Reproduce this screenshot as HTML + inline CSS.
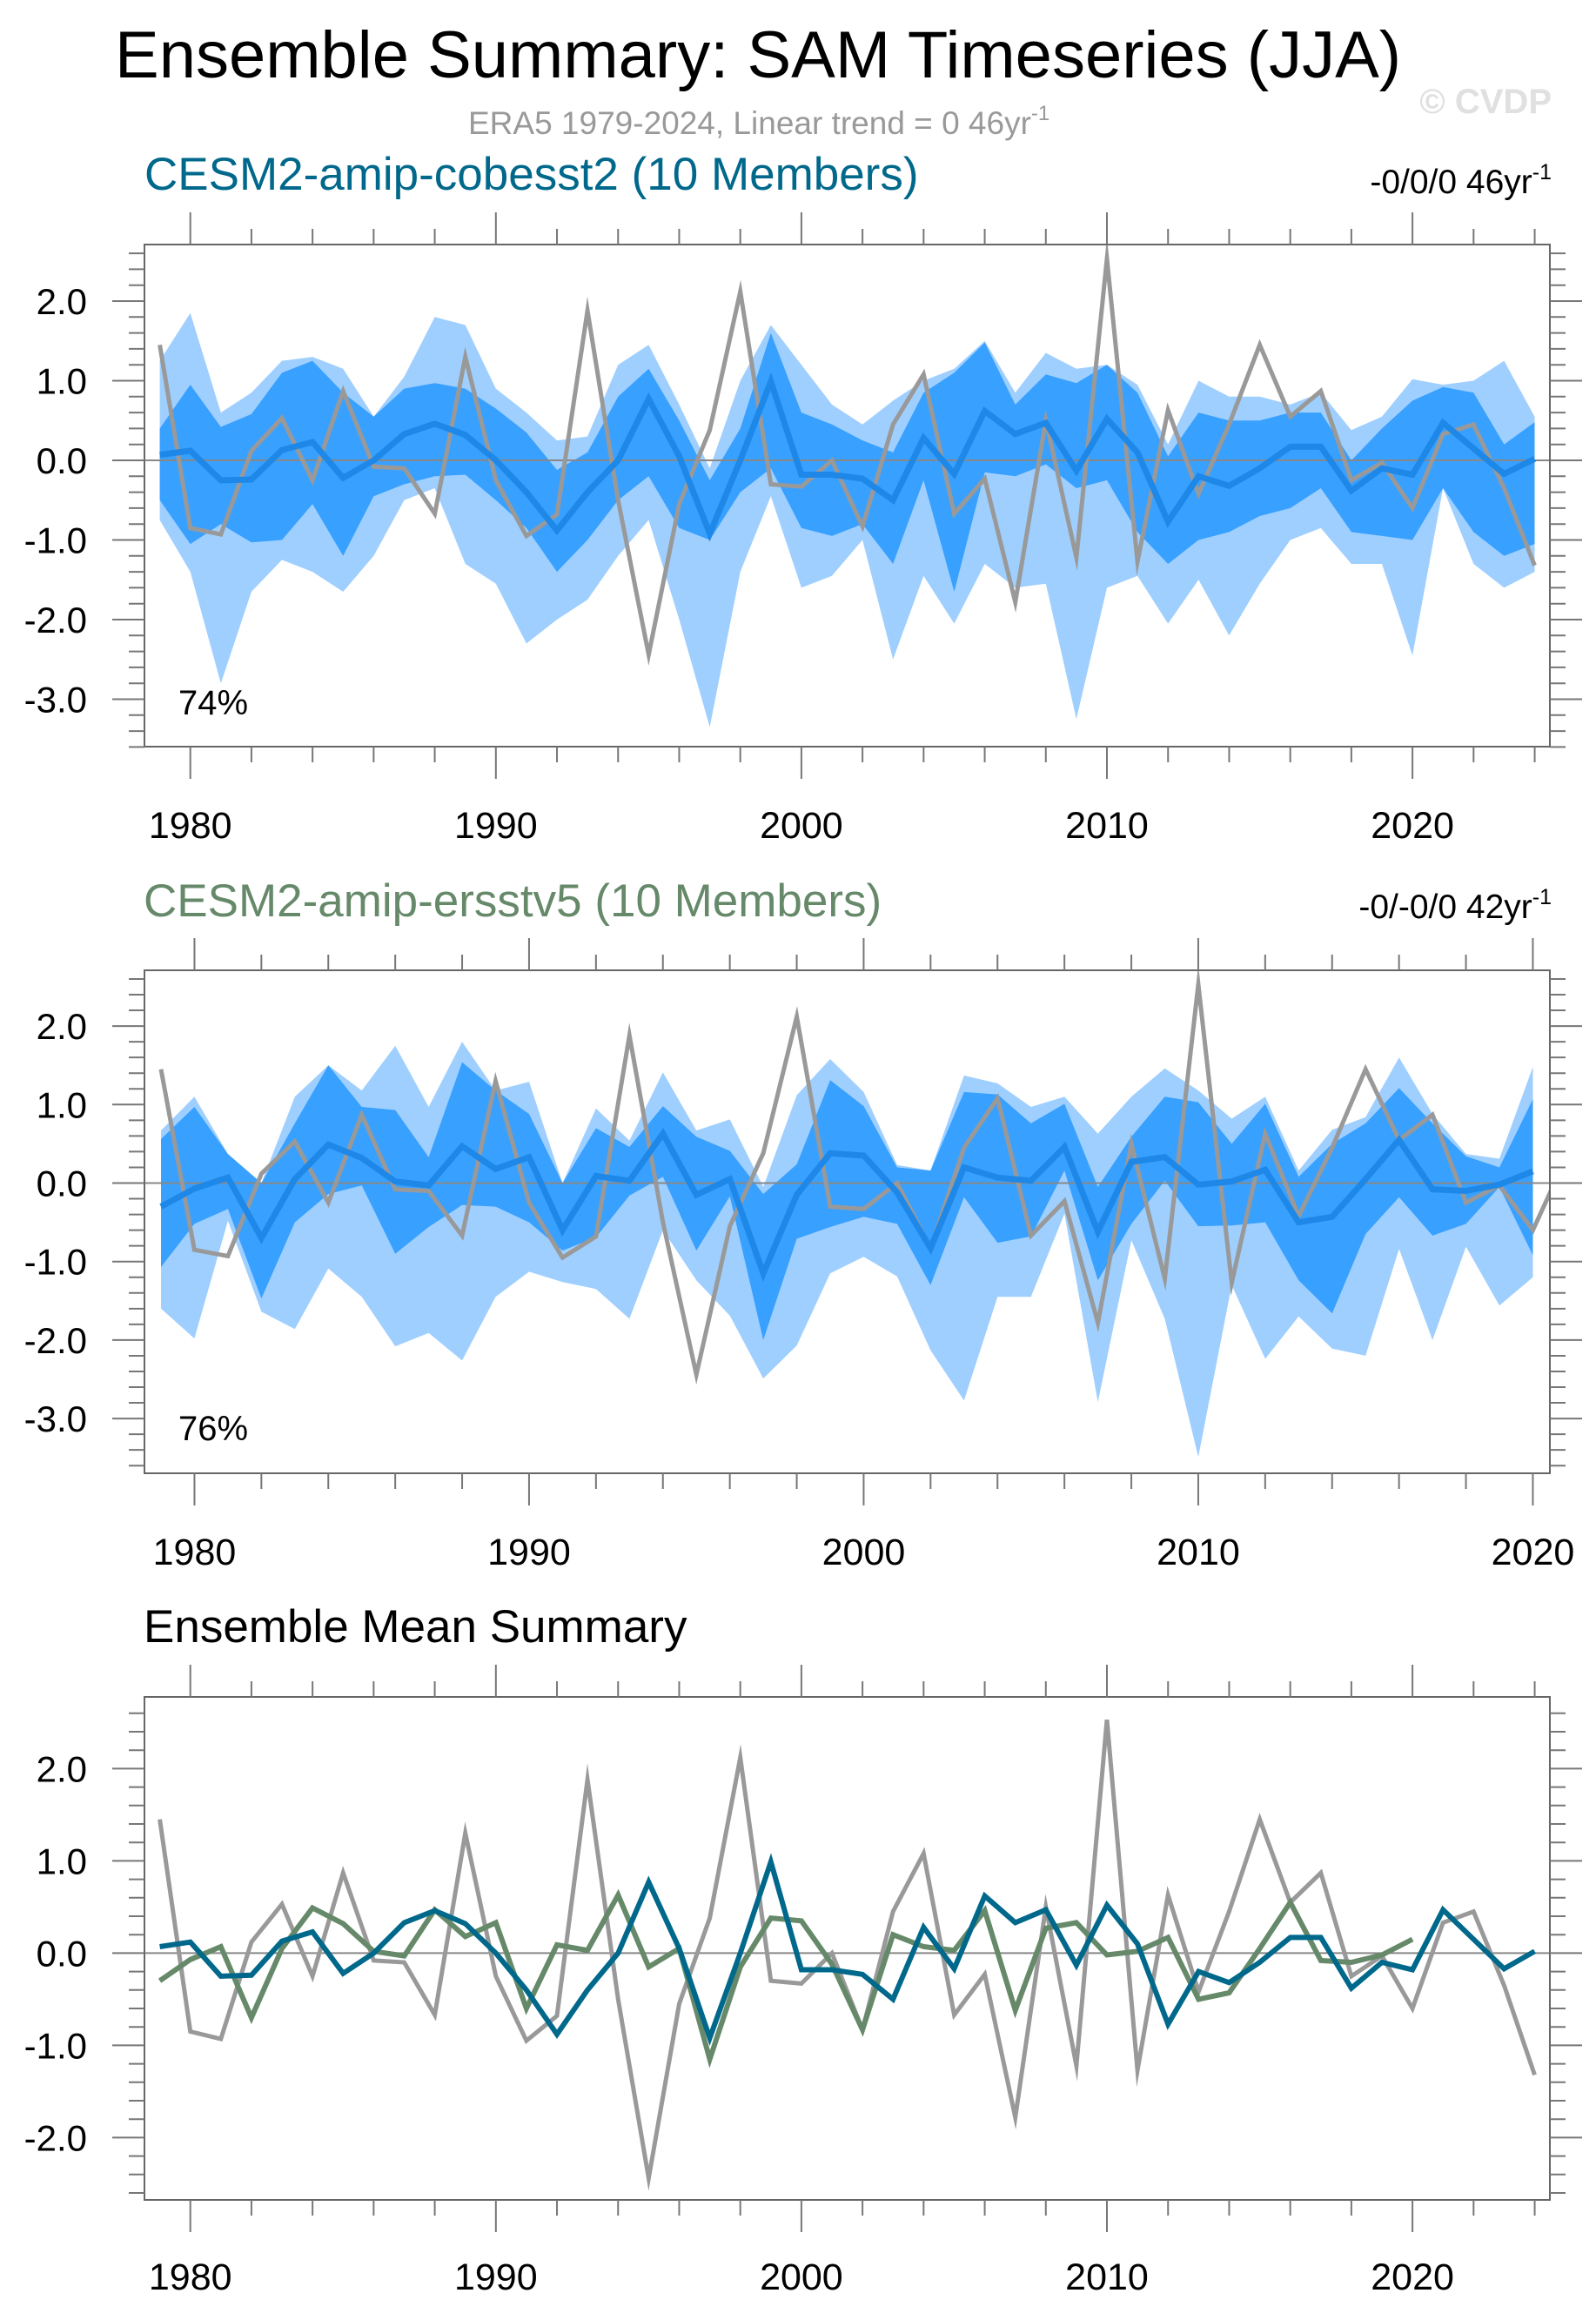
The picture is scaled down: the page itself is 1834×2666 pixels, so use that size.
<!DOCTYPE html>
<html><head><meta charset="utf-8"><style>
html,body{margin:0;padding:0;background:#fff;}
svg{display:block;font-family:"Liberation Sans",Arial,sans-serif;}
</style></head><body>
<svg id="chart" width="1834" height="2666" viewBox="0 0 1834 2666" xmlns="http://www.w3.org/2000/svg">
<text x="132" y="89" font-size="76" fill="#000">Ensemble Summary: SAM Timeseries (JJA)</text>
<text x="538" y="154" font-size="37" fill="#999">ERA5 1979-2024, Linear trend = 0 46yr<tspan dy="-16" font-size="24">-1</tspan></text>
<text x="1783" y="130" font-size="40" font-weight="bold" fill="#e0e0e0" text-anchor="end">© CVDP</text>

<text x="166" y="218" font-size="53" fill="#00688b">CESM2-amip-cobesst2 (10 Members)</text>
<text x="1783" y="222" font-size="39" fill="#000" text-anchor="end">-0/0/0 46yr<tspan dy="-16" font-size="25">-1</tspan></text>
<g id="p1"></g>

<text x="165" y="1053" font-size="53" fill="#66896a">CESM2-amip-ersstv5 (10 Members)</text>
<text x="1783" y="1055" font-size="39" fill="#000" text-anchor="end">-0/-0/0 42yr<tspan dy="-16" font-size="25">-1</tspan></text>
<g id="p2"></g>

<text x="165" y="1887" font-size="53" fill="#000">Ensemble Mean Summary</text>
<g id="p3"></g>
</svg>
<script>
const years1 = [1979,1980,1981,1982,1983,1984,1985,1986,1987,1988,1989,1990,1991,1992,1993,1994,1995,1996,1997,1998,1999,2000,2001,2002,2003,2004,2005,2006,2007,2008,2009,2010,2011,2012,2013,2014,2015,2016,2017,2018,2019,2020,2021,2022,2023,2024];
const era5 = [1.45,-0.85,-0.93,0.12,0.53,-0.25,0.87,-0.08,-0.1,-0.67,1.3,-0.25,-0.95,-0.68,1.88,-0.5,-2.44,-0.55,0.38,2.12,-0.3,-0.33,0.0,-0.83,0.45,1.08,-0.67,-0.23,-1.78,0.5,-1.22,2.53,-1.27,0.63,-0.42,0.45,1.45,0.55,0.87,-0.25,-0.03,-0.6,0.33,0.45,-0.35,-1.32];
const cobMean = [0.07,0.12,-0.25,-0.24,0.13,0.23,-0.22,0.0,0.33,0.46,0.32,0.0,-0.4,-0.88,-0.4,0.0,0.77,0.05,-0.92,0.0,0.99,-0.18,-0.18,-0.23,-0.5,0.28,-0.17,0.62,0.33,0.47,-0.13,0.52,0.1,-0.77,-0.2,-0.32,-0.1,0.17,0.17,-0.38,-0.1,-0.18,0.47,0.15,-0.17,0.02];
const cobLightHi = [1.25,1.85,0.6,0.85,1.25,1.3,1.15,0.55,1.05,1.8,1.7,0.9,0.6,0.25,0.3,1.2,1.45,0.7,-0.1,1.0,1.7,1.2,0.7,0.45,0.75,1.0,1.15,1.5,0.85,1.35,1.15,1.2,0.95,0.2,1.0,0.8,0.8,0.7,0.85,0.38,0.55,1.02,0.95,1.0,1.25,0.55];
const cobDarkHi = [0.4,0.95,0.42,0.58,1.1,1.25,0.85,0.55,0.9,0.97,0.9,0.65,0.35,-0.12,0.1,0.8,1.15,0.5,-0.25,0.4,1.6,0.6,0.45,0.25,0.1,0.85,1.1,1.48,0.7,1.08,0.97,1.2,0.85,0.05,0.6,0.5,0.5,0.6,0.6,0.0,0.4,0.75,0.92,0.85,0.2,0.48];
const cobDarkLo = [-0.5,-1.05,-0.8,-1.03,-1.0,-0.55,-1.2,-0.45,-0.3,-0.2,-0.18,-0.5,-0.85,-1.4,-1.0,-0.5,-0.2,-0.85,-1.0,-0.4,-0.1,-0.85,-0.95,-0.8,-1.3,-0.25,-1.65,-0.15,-0.2,-0.05,-0.35,-0.25,-0.9,-1.3,-1.0,-0.9,-0.7,-0.6,-0.35,-0.9,-0.95,-1.0,-0.35,-0.9,-1.2,-1.05];
const cobLightLo = [-0.75,-1.4,-2.8,-1.65,-1.25,-1.4,-1.65,-1.2,-0.5,-0.35,-1.3,-1.55,-2.3,-2.0,-1.75,-1.2,-0.75,-2.0,-3.35,-1.4,-0.45,-1.6,-1.45,-1.0,-2.5,-1.45,-2.05,-1.3,-1.6,-1.55,-3.25,-1.6,-1.45,-2.05,-1.5,-2.2,-1.55,-1.0,-0.85,-1.3,-1.3,-2.45,-0.35,-1.3,-1.6,-1.4];

const years2 = [1979,1980,1981,1982,1983,1984,1985,1986,1987,1988,1989,1990,1991,1992,1993,1994,1995,1996,1997,1998,1999,2000,2001,2002,2003,2004,2005,2006,2007,2008,2009,2010,2011,2012,2013,2014,2015,2016,2017,2018,2019,2020];
const ersMean = [-0.3,-0.07,0.07,-0.7,0.05,0.49,0.32,0.02,-0.03,0.47,0.18,0.33,-0.6,0.09,0.03,0.63,-0.15,0.05,-1.15,-0.15,0.38,0.35,-0.12,-0.83,0.2,0.07,0.03,0.46,-0.62,0.27,0.33,-0.02,0.02,0.17,-0.5,-0.43,0.05,0.55,-0.08,-0.1,-0.02,0.15];
const ersLightHi = [0.67,1.1,0.37,0.0,1.1,1.5,1.18,1.75,0.97,1.8,1.18,1.29,0.0,0.95,0.54,1.41,0.67,0.81,-0.05,1.12,1.58,1.16,0.23,0.16,1.37,1.27,0.97,1.1,0.63,1.1,1.46,1.18,0.82,1.1,0.16,0.68,0.84,1.6,0.88,0.37,0.31,1.48];
const ersDarkHi = [0.56,0.97,0.37,0.0,0.76,1.5,0.97,0.93,0.33,1.54,1.18,0.88,0.0,0.7,0.46,0.98,0.59,0.41,-0.14,0.24,1.31,0.98,0.2,0.16,1.16,1.13,0.76,1.01,-0.05,0.59,1.1,1.03,0.5,1.01,0.08,0.5,0.76,1.21,0.76,0.34,0.2,1.07];
const ersDarkLo = [-1.07,-0.52,-0.33,-1.47,-0.5,-0.14,-0.03,-0.9,-0.56,-0.28,-0.3,-0.5,-0.86,-0.69,-0.16,0.08,-0.86,-0.17,-2.0,-0.71,-0.56,-0.43,-0.52,-1.3,-0.18,-0.76,-0.68,0.16,-1.24,-0.52,0.03,-0.55,-0.54,-0.5,-1.24,-1.66,-0.65,-0.18,-0.67,-0.52,-0.05,-0.92];
const ersLightLo = [-1.6,-1.98,-0.48,-1.64,-1.86,-1.09,-1.45,-2.08,-1.91,-2.26,-1.45,-1.13,-1.26,-1.35,-1.73,-0.6,-1.24,-1.69,-2.49,-2.07,-1.15,-0.94,-1.19,-2.13,-2.77,-1.45,-1.45,-0.39,-2.79,-0.73,-1.73,-3.49,-1.3,-2.24,-1.7,-2.11,-2.2,-0.84,-2.0,-0.81,-1.56,-1.2];

const yTickLabels12 = ["2.0","1.0","0.0","-1.0","-2.0","-3.0"];
const yTickValues12 = [2,1,0,-1,-2,-3];
const yTickLabels3 = ["2.0","1.0","0.0","-1.0","-2.0"];
const yTickValues3 = [2,1,0,-1,-2];
const xTickLabels1 = ["1980","1990","2000","2010","2020"];
const xTickValues1 = [1980,1990,2000,2010,2020];

const NS='http://www.w3.org/2000/svg';
function mk(tag, attrs, parent){const e=document.createElementNS(NS,tag);for(const k in attrs)e.setAttribute(k,attrs[k]);parent.appendChild(e);return e;}

function panel(g, cfg){
  const L=166,R=1781,T=cfg.top,B=cfg.bottom;
  const xs = y => cfg.x0 + (y-1979)*cfg.dx;
  const ys = v => cfg.zero - v*cfg.unit;
  const id=cfg.id;
  const defs=mk('defs',{},g);
  const cp=mk('clipPath',{id:id+'clip'},defs);
  mk('rect',{x:L,y:T,width:R-L,height:B-T},cp);
  const plot=mk('g',{'clip-path':'url(#'+id+'clip)'},g);
  function band(yrs,hi,lo,color,name){
    let d='';
    yrs.forEach((y,i)=>{d+=(i?'L':'M')+xs(y).toFixed(1)+','+ys(hi[i]).toFixed(1);});
    for(let i=yrs.length-1;i>=0;i--) d+='L'+xs(yrs[i]).toFixed(1)+','+ys(lo[i]).toFixed(1);
    const p=mk('path',{d:d+'Z',fill:color},plot);
    
    
  }
  function line(yrs,vals,color,w,name){
    let d='';
    yrs.forEach((y,i)=>{d+=(i?'L':'M')+xs(y).toFixed(1)+','+ys(vals[i]).toFixed(1);});
    const p=mk('path',{d:d,fill:'none',stroke:color,'stroke-width':w,'stroke-linejoin':'miter','stroke-miterlimit':10},plot);
    
    
  }
  if(cfg.bands){
    band(cfg.years,cfg.lh,cfg.ll,'#9fcfff',id+'-outer-band');
    band(cfg.years,cfg.dh,cfg.dl,'#38a0ff',id+'-inner-band');
  }
  const z=mk('line',{x1:L,x2:R,y1:ys(0),y2:ys(0),stroke:'#888','stroke-width':2},plot);
  
  
  cfg.lines.forEach(l=>line(l.years,l.vals,l.color,l.w,l.name));
  // frame
  const fr=mk('rect',{x:L,y:T,width:R-L,height:B-T,fill:'none',stroke:'#666','stroke-width':2},g);
  
  
  // x ticks
  const tk=mk('g',{stroke:'#777','stroke-width':2},g);
  
  
  for(let y=cfg.xmin;y<=cfg.xmax;y+=2){
    const x=xs(y), maj=(y%10===0);
    mk('line',{x1:x,x2:x,y1:T,y2:T-(maj?37:18)},tk);
    mk('line',{x1:x,x2:x,y1:B,y2:B+(maj?37:18)},tk);
  }
  for(let k=Math.ceil(cfg.vmin*5);k<=Math.floor(cfg.vmax*5);k++){
    const v=k/5, yy=ys(v), maj=(k%5===0);
    mk('line',{x1:L,x2:L-(maj?37:18),y1:yy,y2:yy},tk);
    mk('line',{x1:R,x2:R+(maj?37:18),y1:yy,y2:yy},tk);
  }
  cfg.yVals.forEach((v,i)=>{
    const t=mk('text',{x:100,y:ys(v)+15,'font-size':42,'text-anchor':'end',fill:'#000'},g);
    t.textContent=cfg.yLabs[i];
    
    
  });
  xTickValues1.forEach((v,i)=>{
    const t=mk('text',{x:xs(v),y:cfg.xlabY,'font-size':43,'text-anchor':'middle',fill:'#000'},g);
    t.textContent=xTickLabels1[i];
    
    
  });
  if(cfg.pct){
    const t=mk('text',{x:205,y:cfg.pctY,'font-size':40,fill:'#000'},g);
    t.textContent=cfg.pct;
    
    
  }
}

panel(document.getElementById('p1'),{id:'panel1',top:281,bottom:858,zero:529,unit:91.5,x0:183.6,dx:35.11,xmin:1980,xmax:2024,vmin:-3.6,vmax:2.7,
  bands:true,years:years1,lh:cobLightHi,dh:cobDarkHi,dl:cobDarkLo,ll:cobLightLo,
  lines:[{years:years1,vals:era5,color:'#999',w:5,name:'panel1-era5-line'},{years:years1,vals:cobMean,color:'#1e88e8',w:7,name:'panel1-ensemble-mean-line'}],
  yVals:yTickValues12,yLabs:yTickLabels12,xlabY:963,pct:'74%',pctY:821});

panel(document.getElementById('p2'),{id:'panel2',top:1115,bottom:1693,zero:1359.5,unit:90.2,x0:185,dx:38.45,xmin:1980,xmax:2020,vmin:-3.7,vmax:2.7,
  bands:true,years:years2,lh:ersLightHi,dh:ersDarkHi,dl:ersDarkLo,ll:ersLightLo,
  lines:[{years:years1,vals:era5,color:'#999',w:5,name:'panel2-era5-line'},{years:years2,vals:ersMean,color:'#1e88e8',w:7,name:'panel2-ensemble-mean-line'}],
  yVals:yTickValues12,yLabs:yTickLabels12,xlabY:1798,pct:'76%',pctY:1655});

panel(document.getElementById('p3'),{id:'panel3',top:1950,bottom:2528,zero:2244.4,unit:106,x0:183.6,dx:35.11,xmin:1980,xmax:2024,vmin:-2.67,vmax:2.78,
  bands:false,
  lines:[{years:years1,vals:era5,color:'#999',w:5,name:'panel3-era5-line'},{years:years2,vals:ersMean,color:'#66896a',w:6,name:'panel3-ersstv5-mean-line'},{years:years1,vals:cobMean,color:'#00688b',w:6,name:'panel3-cobesst2-mean-line'}],
  yVals:yTickValues3,yLabs:yTickLabels3,xlabY:2631});
</script>
</body></html>
